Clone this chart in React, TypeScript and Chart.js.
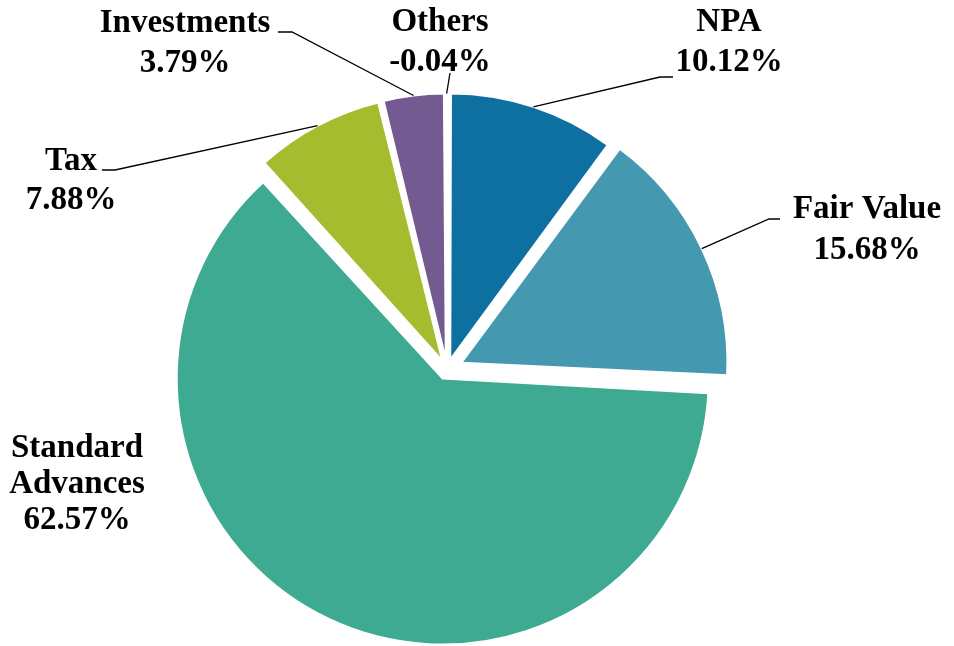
import React, { useEffect, useRef } from 'react';
import { Chart, registerables, ArcElement } from 'chart.js';

Chart.register(...registerables);

const categories = ['NPA', 'Fair Value', 'Standard Advances', 'Tax', 'Investments', 'Others'];
const values = [10.12, 15.68, 62.57, 7.88, 3.79, -0.04];
const nameLines = [['NPA'], ['Fair Value'], ['Standard', 'Advances'], ['Tax'], ['Investments'], ['Others']];
const colors = ['#0E70A1', '#4499B0', '#3EAA91', '#A5BC2E', '#735A91', '#F2B27E'];
const explodePx = [10.5, 16, 10, 10, 10, 10];
const borderWidths = [2, 2, 2, 2, 2, 0];

// label layout: centre x, first baseline, line gap, leader elbow points (from label side)
const labelLayout = [
  { cx: 729, y: 31, gap: 40, leader: [[673, 77], [660, 77]] },
  { cx: 867, y: 218, gap: 41, leader: [[780, 219], [769, 219]] },
  { cx: 77, y: 457, gap: 36, leader: null },
  { cx: 71, y: 170, gap: 39, leader: [[102, 170], [115, 170]] },
  { cx: 185, y: 32, gap: 40, leader: [[278, 32], [292, 32]] },
  { cx: 440, y: 31, gap: 40, leader: [[450, 73]] },
];

class FlatOffsetArc extends ArcElement {
  static id = 'flatOffsetArc';
  draw(ctx: CanvasRenderingContext2D) {
    const off = (((this as any).options && (this as any).options.offset) || 0) / 4;
    const circ = (this as any).circumference || 0;
    const fix = 1 - Math.sin(Math.min(Math.PI, circ));
    const saved = (this as any).outerRadius;
    (this as any).outerRadius = saved - off * fix;
    super.draw(ctx);
    (this as any).outerRadius = saved;
  }
}
Chart.register(FlatOffsetArc as any);
(Chart.defaults as any).datasets.pie.dataElementType = 'flatOffsetArc';

const labelPlugin = {
  id: 'pieLabels',
  afterDraw(chart: any) {
    const ctx = chart.ctx as CanvasRenderingContext2D;
    const meta = chart.getDatasetMeta(0);
    ctx.save();
    meta.data.forEach((arc: any, i: number) => {
      const L = labelLayout[i];
      const p = arc.getProps(['x', 'y', 'startAngle', 'endAngle', 'outerRadius'], true);
      const mid = (p.startAngle + p.endAngle) / 2;
      const off = (arc.options.offset || 0) / 4;
      const ax = p.x + Math.cos(mid) * (off + p.outerRadius);
      const ay = p.y + Math.sin(mid) * (off + p.outerRadius);
      if (L.leader) {
        ctx.beginPath();
        ctx.strokeStyle = '#000';
        ctx.lineWidth = 1.3;
        ctx.moveTo(L.leader[0][0], L.leader[0][1]);
        for (let k = 1; k < L.leader.length; k++) ctx.lineTo(L.leader[k][0], L.leader[k][1]);
        ctx.lineTo(ax, ay);
        ctx.stroke();
      }
      const lines = [...nameLines[i], values[i].toFixed(2) + '%'];
      ctx.fillStyle = '#000';
      ctx.font = 'bold 33px "Liberation Serif"';
      ctx.textAlign = 'center';
      ctx.textBaseline = 'alphabetic';
      lines.forEach((t, k) => ctx.fillText(t, L.cx, L.y + k * L.gap));
    });
    ctx.restore();
  },
};

export default function App() {
  const ref = useRef<HTMLCanvasElement>(null);
  useEffect(() => {
    if (!ref.current) return;
    const chart = new Chart(ref.current, {
      type: 'pie',
      data: {
        labels: categories,
        datasets: [
          {
            data: values,
            backgroundColor: colors,
            borderColor: '#ffffff',
            borderWidth: borderWidths,
            offset: explodePx.map((v) => v * 4),
          },
        ],
      },
      options: {
        responsive: false,
        animation: false,
        devicePixelRatio: 1,
        radius: 266,
        layout: { padding: { left: 0, right: 60, top: 93, bottom: 0 } },
        plugins: { legend: { display: false }, tooltip: { enabled: false } },
      } as any,
      plugins: [labelPlugin],
    });
    return () => chart.destroy();
  }, []);
  return (
    <div style={{ position: 'fixed', left: 0, top: 0, width: 954, height: 646, background: '#fff' }}>
      <canvas ref={ref} width={954} height={646} />
    </div>
  );
}
